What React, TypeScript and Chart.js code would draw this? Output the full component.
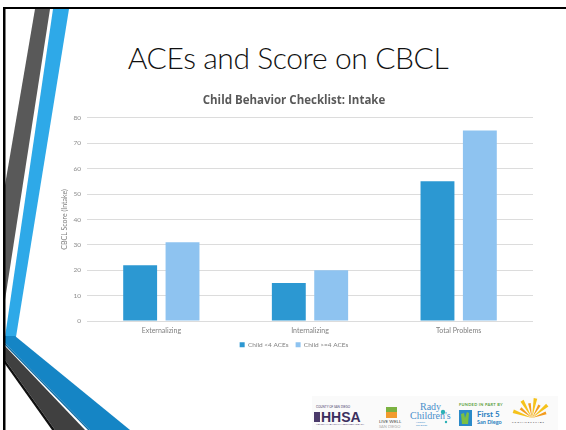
import React, { useEffect, useRef } from "react";
import { Chart, registerables } from "chart.js";

Chart.register(...registerables);

const categories = ["Externalizing", "Internalizing", "Total Problems"];
const seriesLabels = ["Child <4 ACEs", "Child >=4 ACEs"];
const under4Aces = [22, 15, 55];
const atLeast4Aces = [31, 20, 75];
const yMin = 0;
const yMax = 80;
const yStep = 10;

const chartTitle = "Child Behavior Checklist: Intake";
const yTitle = "CBCL Score (Intake)";
const slideTitle = "ACEs and Score on CBCL";

const FONT = "Lato, 'Open Sans', sans-serif";

const legendShift = {
  id: "legendShift",
  afterLayout(chart: any) {
    const lg = chart.legend;
    if (lg) {
      lg.top -= 5;
      lg.bottom -= 5;
    }
  },
};

function ChartCanvas() {
  const ref = useRef<HTMLCanvasElement | null>(null);
  useEffect(() => {
    if (!ref.current) return;
    const chart = new Chart(ref.current, {
      type: "bar",
      data: {
        labels: categories,
        datasets: [
          {
            label: seriesLabels[0],
            data: under4Aces,
            backgroundColor: "#2C98D2",
            borderWidth: 0,
            categoryPercentage: 0.57,
            barPercentage: 0.8,
          },
          {
            label: seriesLabels[1],
            data: atLeast4Aces,
            backgroundColor: "#8EC3F0",
            borderWidth: 0,
            categoryPercentage: 0.57,
            barPercentage: 0.8,
          },
        ],
      },
      options: {
        responsive: false,
        animation: false,
        devicePixelRatio: 1,
        layout: { padding: { left: 0, right: 7, top: 0, bottom: 0 } },
        plugins: {
          title: {
            display: true,
            text: chartTitle,
            color: "#595959",
            font: { family: "'Open Sans', Lato, sans-serif", size: 11.5, weight: "bold" },
            padding: { top: 4, bottom: 10 },
          },
          legend: {
            position: "bottom",
            labels: {
              boxWidth: 5,
              boxHeight: 5,
              color: "#7f7f7f",
              font: { family: FONT, size: 6.5 },
              padding: 7,
            },
          },
          tooltip: { enabled: false },
        },
        scales: {
          x: {
            grid: { display: false, drawTicks: false },
            border: { display: false },
            ticks: {
              color: "#7f7f7f",
              font: { family: FONT, size: 7 },
              padding: 5,
            },
          },
          y: {
            min: yMin,
            max: yMax,
            ticks: {
              stepSize: yStep,
              color: "#8c8c8c",
              font: { family: FONT, size: 6.5 },
              padding: 6,
            },
            grid: { color: "#dcdcdc", lineWidth: 1, drawTicks: false },
            border: { display: false },
            title: {
              display: true,
              text: yTitle,
              color: "#7f7f7f",
              font: { family: FONT, size: 7 },
              padding: { top: 6, bottom: 0 },
            },
            afterFit: (scale: any) => {
              scale.width = 32;
            },
          },
        },
      },
      plugins: [legendShift],
    });
    return () => chart.destroy();
  }, []);
  return (
    <canvas
      ref={ref}
      width={485}
      height={273}
      style={{ position: "absolute", left: 55, top: 90, width: 485, height: 273 }}
    />
  );
}

function Decorations() {
  return (
    <svg
      width={566}
      height={430}
      style={{ position: "absolute", left: 0, top: 0 }}
    >
      {/* top stripes */}
      <polygon points="35,9 50,9 5,300 5,185" fill="#595959" />
      <polygon points="53,9 69,9 16,337 5,337" fill="#2EA9E8" />
      {/* bottom diagonal bands */}
      <polygon points="5,336 15,336 130,430 90,430 5,343" fill="#1585C5" />
      <polygon points="5,343 90,430 88,430 5,345" fill="#0F6FA8" />
      <polygon points="5,346 85,430 55,430 5,360" fill="#404040" />
      <polygon points="5,360 55,430 52,430 5,364" fill="#111" />
      {/* border */}
      <rect x={3} y={7} width={563} height={2} fill="#000" />
      <rect x={3} y={7} width={2.5} height={423} fill="#000" />
      {/* logo backdrop */}
      <rect x={312} y={396} width={246} height={34} fill="#fafafa" />
      {/* HHSA emblem */}
      <rect x={314} y={412} width={6} height={10} fill="#4a3a6a" />
      {/* live well icon */}
      <rect x={386} y={407} width={11} height={11} fill="#f29a2e" />
      <rect x={386} y={407} width={11} height={5} fill="#7bb241" />
      {/* first 5 hand */}
      <rect x={459} y={410} width={13} height={16} fill="#2a8ac8" />
      <polygon points="462,424 461,414 464,413 465,418 467,412 469,413 468,424" fill="#7bc043" />
      {/* rady swirl */}
      <circle cx={443} cy={412} r={2.2} fill="#2bb0b5" />
      <circle cx={446} cy={422} r={1.2} fill="#2bb0b5" />
      {/* promises2kids sunburst */}
      {[-70, -50, -30, -10, 10, 30, 50, 70].map((a, i) => {
        const cx = 532;
        const cy = 418;
        const r = 20 - (i % 2) * 5;
        const rad = ((a - 90) * Math.PI) / 180;
        const w = 0.09;
        const x1 = cx + r * Math.cos(rad - w);
        const y1 = cy + r * Math.sin(rad - w);
        const x2 = cx + r * Math.cos(rad + w);
        const y2 = cy + r * Math.sin(rad + w);
        return (
          <polygon
            key={i}
            points={`${cx},${cy} ${x1},${y1} ${x2},${y2}`}
            fill={i % 2 ? "#f39c1e" : "#f5c21b"}
          />
        );
      })}
    </svg>
  );
}

function Logos() {
  const abs = (l: number, t: number, extra: React.CSSProperties = {}): React.CSSProperties => ({
    position: "absolute",
    left: l,
    top: t,
    whiteSpace: "nowrap",
    lineHeight: 1,
    fontFamily: FONT,
    ...extra,
  });
  return (
    <>
      <div style={abs(316, 406, { fontSize: 3, color: "#4a3a6a" })}>COUNTY OF SAN DIEGO</div>
      <div style={abs(321, 410, { fontSize: 14, fontWeight: 900, color: "#3a2f5e", fontFamily: "'Liberation Sans', Arial, sans-serif" })}>HHSA</div>
      <div style={abs(316, 424, { fontSize: 2.5, color: "#4a3a6a" })}>HEALTH AND HUMAN SERVICES AGENCY</div>
      <div style={abs(379, 420, { fontSize: 4.5, color: "#444" })}>LIVE WELL</div>
      <div style={abs(379, 425, { fontSize: 4, color: "#aaa" })}>SAN DIEGO</div>
      <div style={abs(420, 402, { fontSize: 10, color: "#4a8fcb", fontFamily: "'Liberation Serif', serif" })}>Rady</div>
      <div style={abs(410, 411, { fontSize: 10, color: "#4a8fcb", fontFamily: "'Liberation Serif', serif" })}>Children's</div>
      <div style={abs(416, 422, { fontSize: 2.5, color: "#4a8fcb" })}>Hospital</div>
      <div style={abs(416, 425, { fontSize: 2.5, color: "#4a8fcb" })}>San Diego</div>
      <div style={abs(459, 403, { fontSize: 4, color: "#5aa040", fontWeight: 700, letterSpacing: 0.3 })}>FUNDED IN PART BY</div>
      <div style={abs(477, 410, { fontSize: 8, color: "#2a7fc0", fontWeight: 700 })}>First 5</div>
      <div style={abs(477, 420, { fontSize: 5.5, color: "#2a7fc0", fontWeight: 700 })}>San Diego</div>
      <div style={abs(512, 421, { fontSize: 2.6, color: "#333", letterSpacing: 1 })}>PROMISES2KIDS</div>
    </>
  );
}

export default function App() {
  return (
    <div
      style={{
        position: "absolute",
        left: 0,
        top: 0,
        width: 566,
        height: 430,
        overflow: "hidden",
        background: "#ffffff",
      }}
    >
      <Decorations />
      <div
        style={{
          position: "absolute",
          left: 88,
          top: 42,
          width: 400,
          textAlign: "center",
          fontFamily: FONT,
          fontSize: 30,
          fontWeight: 300,
          letterSpacing: -0.4,
          lineHeight: "30px",
          color: "#111",
          whiteSpace: "nowrap",
        }}
      >
        {slideTitle}
      </div>
      <ChartCanvas />
      <Logos />
    </div>
  );
}
